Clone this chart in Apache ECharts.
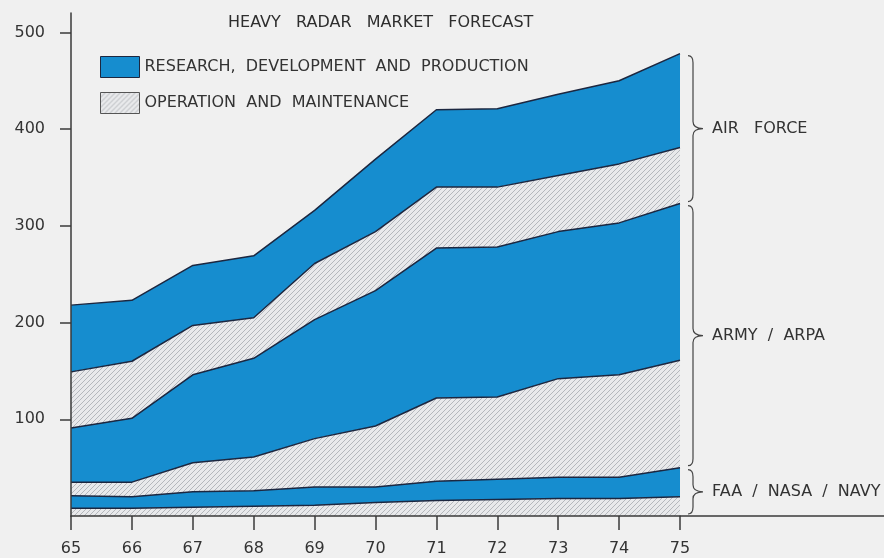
<!DOCTYPE html>
<html>
<head>
<meta charset="utf-8">
<script src="https://cdn.jsdelivr.net/npm/echarts@6/dist/echarts.min.js"></script>
<style>
  html, body { margin: 0; padding: 0; background: #f0f0f0; }
  #chart { width: 884px; height: 558px; }
</style>
</head>
<body>
<div id="chart"></div>
<script>
  // years along the bottom (19xx)
  const years = ['65', '66', '67', '68', '69', '70', '71', '72', '73', '74', '75']
  // layer thicknesses, bottom to top
  const faaOM = [8, 8, 9, 10, 11, 14, 16, 17, 18, 18, 20]
  const faaRDP = [13, 12, 16, 16, 19, 16, 20, 21, 22, 22, 30]
  const armyOM = [14, 15, 30, 35, 50, 63, 86, 85, 102, 106, 111]
  const armyRDP = [56, 66, 91, 102, 123, 140, 155, 155, 152, 157, 162]
  const afOM = [58, 59, 51, 42, 58, 61, 63, 62, 58, 61, 58]
  const afRDP = [69, 63, 62, 64, 55, 75, 80, 81, 84, 86, 97]
  const yTicks = [100, 200, 300, 400, 500]
  const agencies = ['FAA  /  NASA  /  NAVY', 'ARMY  /  ARPA', 'AIR   FORCE']

  const RDP = 'RESEARCH, DEVELOPMENT AND PRODUCTION'
  const OM = 'OPERATION AND MAINTENANCE'
  const blue = '#168dcf'
  const edge = '#1c2740'
  const ink = '#333'
  const axisColor = '#3a3a3a'
  const font = 'DejaVu Sans'

  function hatchCanvas() {
    const c = document.createElement('canvas')
    c.width = 5
    c.height = 5
    const g = c.getContext('2d')
    g.fillStyle = '#e8e9eb'
    g.fillRect(0, 0, 5, 5)
    g.strokeStyle = '#b4b7bc'
    g.lineWidth = 1
    g.beginPath()
    g.moveTo(-1, 6); g.lineTo(6, -1)
    g.moveTo(-1, 1); g.lineTo(1, -1)
    g.moveTo(4, 6); g.lineTo(6, 4)
    g.stroke()
    return c
  }
  const hatch = { image: hatchCanvas(), repeat: 'repeat' }

  const layers = [
    { name: OM, values: faaOM, fill: hatch },
    { name: RDP, values: faaRDP, fill: blue },
    { name: OM, values: armyOM, fill: hatch },
    { name: RDP, values: armyRDP, fill: blue },
    { name: OM, values: afOM, fill: hatch },
    { name: RDP, values: afRDP, fill: blue }
  ]

  // each agency = two layers; brace spans its share of the last year
  const last = years.length - 1
  const braceData = []
  let base = 0
  agencies.forEach((a, i) => {
    const top = base + layers[2 * i].values[last] + layers[2 * i + 1].values[last]
    braceData.push([last, base, top])
    base = top
  })

  function bracePath(x, y1, y2) {
    const xm = x + 5, xt = x + 15, ym = (y1 + y2) / 2
    const r = Math.min(7, (y2 - y1) / 4)
    return `M${x},${y1} Q${xm},${y1} ${xm},${y1 + r} L${xm},${ym - r} Q${xm},${ym} ${xt},${ym}` +
      ` Q${xm},${ym} ${xm},${ym + r} L${xm},${y2 - r} Q${xm},${y2} ${x},${y2}`
  }

  const myChart = echarts.init(document.getElementById('chart'))
  const textStyle = { color: ink, fontFamily: font, fontSize: 16 }

  const option = {
    backgroundColor: '#f0f0f0',
    animation: false,
    title: {
      text: 'HEAVY   RADAR   MARKET   FORECAST',
      left: 223,
      top: 10,
      textStyle: { color: '#2e2e2e', fontFamily: font, fontSize: 16, fontWeight: 'normal' }
    },
    legend: {
      orient: 'vertical',
      left: 95,
      top: 51,
      itemWidth: 39,
      itemHeight: 21,
      itemGap: 14,
      formatter: name => name.split(' ').join('  '),
      textStyle,
      data: [
        { name: RDP, icon: 'rect', itemStyle: { color: blue, borderColor: edge, borderWidth: 1 } },
        { name: OM, icon: 'rect', itemStyle: { color: hatch, borderColor: '#555', borderWidth: 1 } }
      ]
    },
    grid: { left: 71, right: 204, top: 13, bottom: 42 },
    xAxis: {
      type: 'category',
      data: years,
      boundaryGap: false,
      z: 20,
      axisLine: { lineStyle: { color: axisColor, width: 1.5 } },
      axisTick: { length: 14, lineStyle: { color: axisColor, width: 1.5 } },
      axisLabel: { margin: 25, ...textStyle },
      splitLine: { show: false }
    },
    yAxis: {
      type: 'value',
      min: 0,
      max: 520,
      z: 20,
      axisLine: { show: true, lineStyle: { color: axisColor, width: 1.5 } },
      axisTick: { show: true, customValues: yTicks, length: 11, lineStyle: { color: axisColor, width: 1.5 } },
      axisLabel: { customValues: yTicks, margin: 26, ...textStyle },
      splitLine: { show: false }
    },
    series: layers.map((l, i) => ({
      name: l.name,
      type: 'line',
      stack: 'total',
      z: 10 - i,
      symbol: 'none',
      data: l.values,
      lineStyle: { color: edge, width: 1.5 },
      itemStyle: { color: l.fill },
      areaStyle: { color: l.fill, opacity: 1 }
    })).concat([{
      name: 'agency',
      type: 'custom',
      z: 30,
      clip: false,
      data: braceData,
      renderItem(params, api) {
        const p0 = api.coord([api.value(0), api.value(1)])
        const p1 = api.coord([api.value(0), api.value(2)])
        const x = p0[0] + 8
        const y1 = p1[1] + 2
        const y2 = p0[1] - 2
        return {
          type: 'group',
          children: [
            {
              type: 'path',
              shape: { pathData: bracePath(x, y1, y2) },
              style: { stroke: '#444', lineWidth: 1.2, fill: 'none' }
            },
            {
              type: 'text',
              x: x + 24,
              y: (y1 + y2) / 2,
              style: { text: agencies[params.dataIndex], fill: ink, font: `16px "${font}"`, verticalAlign: 'middle' }
            }
          ]
        }
      }
    }])
  }
  myChart.setOption(option)

  // x axis line runs on past the last year to the right edge
  const o = myChart.convertToPixel({ gridIndex: 0 }, [last, 0])
  myChart.setOption({
    graphic: [{
      type: 'line',
      shape: { x1: o[0], y1: o[1], x2: 884, y2: o[1] },
      style: { stroke: axisColor, lineWidth: 1.5 },
      z: 20
    }]
  })
</script>
</body>
</html>
